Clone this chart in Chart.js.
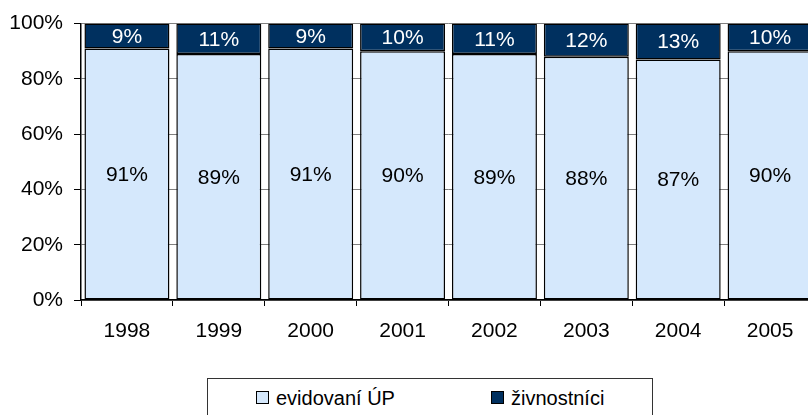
<!DOCTYPE html>
<html>
<head>
<meta charset="utf-8">
<script src="https://cdn.jsdelivr.net/npm/chart.js@4"></script>
<style>
  html, body { margin: 0; padding: 0; background: #fff; overflow: hidden; }
  #wrap { position: relative; width: 808px; height: 415px; overflow: hidden; }
  #chart { position: absolute; left: 0; top: 0; }
  #legend {
    position: absolute; left: 207px; top: 378px; width: 446px; height: 50px;
    border: 1px solid #333; box-sizing: border-box;
    font-family: "Liberation Sans", Arial, sans-serif; font-size: 20px; color: #000;
  }
  .item { position: absolute; top: 8px; white-space: nowrap; }
  .box { display: inline-block; width: 11px; height: 11px; border: 1px solid #000; margin-right: 7px; vertical-align: 1px; }
</style>
</head>
<body>
<div id="wrap">
  <canvas id="chart" width="822" height="350"></canvas>
  <div id="legend"></div>
</div>
<script>
const years = ['1998', '1999', '2000', '2001', '2002', '2003', '2004', '2005'];
const evidovani = [91, 89, 91, 90, 89, 88, 87, 90];
const zivnostnici = [9, 11, 9, 10, 11, 12, 13, 10];
const seriesNames = ['evidovaní ÚP', 'živnostníci'];
const yTicks = [0, 20, 40, 60, 80, 100];

const lightBlue = '#d5e8fc';
const darkBlue = '#00305f';
const font = { family: '"Liberation Sans", Arial, sans-serif', size: 21 };

// draw the percentage inside each segment
const segmentLabels = {
    id: 'segmentLabels',
    afterDatasetsDraw(chart) {
        const ctx = chart.ctx;
        ctx.save();
        ctx.font = '21px "Liberation Sans", Arial, sans-serif';
        ctx.textAlign = 'center';
        ctx.textBaseline = 'middle';
        chart.data.datasets.forEach((ds, i) => {
            const meta = chart.getDatasetMeta(i);
            meta.data.forEach((bar, j) => {
                const mid = (bar.y + bar.base) / 2;
                ctx.fillStyle = i === 0 ? '#000' : '#fff';
                ctx.fillText(ds.data[j] + '%', bar.x, mid + 1);
            });
        });
        ctx.restore();
    }
};

new Chart(document.getElementById('chart'), {
    type: 'bar',
    data: {
        labels: years,
        datasets: [{
            label: seriesNames[0],
            data: evidovani,
            backgroundColor: lightBlue,
            borderColor: '#000',
            borderWidth: 1.5,
            borderSkipped: false,
            barPercentage: 0.925,
            categoryPercentage: 1
        }, {
            label: seriesNames[1],
            data: zivnostnici,
            backgroundColor: darkBlue,
            borderColor: '#000',
            borderWidth: 1.5,
            borderSkipped: false,
            barPercentage: 0.925,
            categoryPercentage: 1
        }]
    },
    options: {
        responsive: false,
        animation: false,
        devicePixelRatio: 1,
        layout: { padding: { top: 14, right: 6, left: 0, bottom: 0 } },
        plugins: {
            legend: { display: false },
            tooltip: { enabled: false }
        },
        scales: {
            x: {
                stacked: true,
                grid: { offset: true, drawOnChartArea: false, tickLength: 6, color: '#000' },
                border: { color: '#000', width: 1.5 },
                ticks: { color: '#000', font: font, padding: 13 },
                afterFit: s => { s.height = 50; }
            },
            y: {
                stacked: true,
                min: 0,
                max: 100,
                afterBuildTicks: s => { s.ticks = yTicks.map(v => ({ value: v })); },
                grid: { color: '#808080', tickLength: 7, tickColor: '#000' },
                border: { color: '#000', width: 1.5 },
                ticks: { color: '#000', font: font, padding: 11, callback: v => v + '%' },
                afterFit: s => { s.width = 81; }
            }
        }
    },
    plugins: [segmentLabels]
});

// legend in a framed box below the chart
const legend = document.getElementById('legend');
const colors = [lightBlue, darkBlue];
const lefts = [48, 283];
seriesNames.forEach((name, i) => {
    const item = document.createElement('span');
    item.className = 'item';
    item.style.left = lefts[i] + 'px';
    const box = document.createElement('span');
    box.className = 'box';
    box.style.background = colors[i];
    item.appendChild(box);
    item.appendChild(document.createTextNode(name));
    legend.appendChild(item);
});
</script>
</body>
</html>
